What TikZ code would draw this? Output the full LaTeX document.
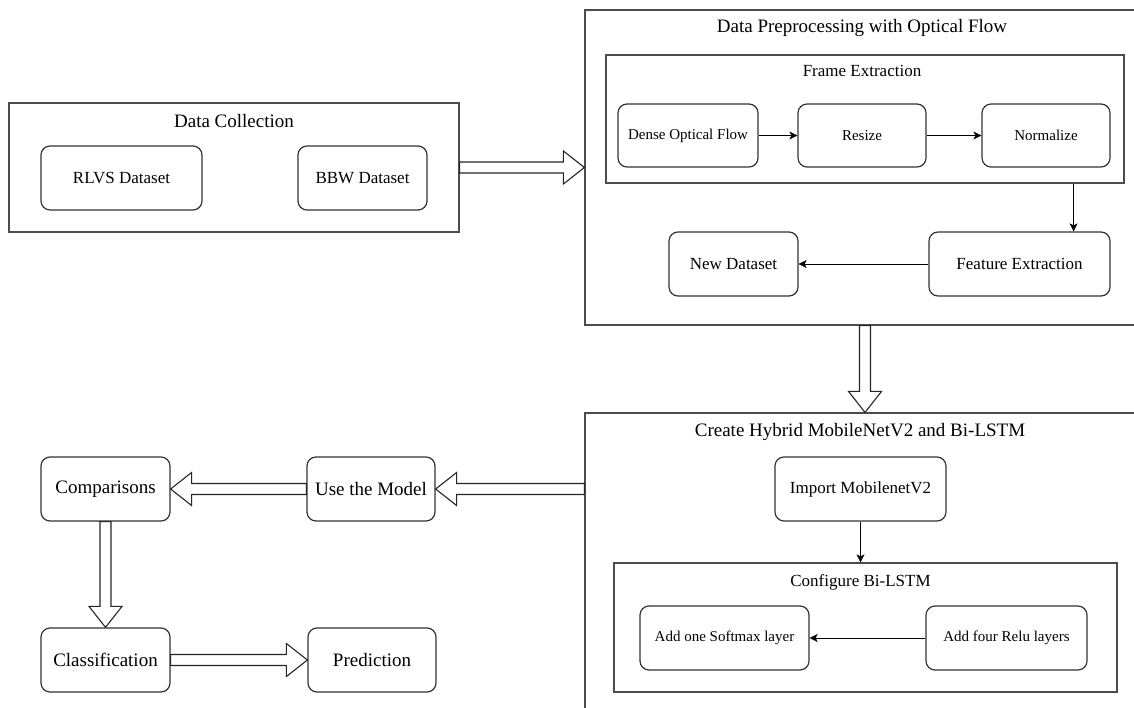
\documentclass[tikz,border=0pt]{standalone}
\usepackage{fontspec}
\setmainfont{Liberation Serif}
\usetikzlibrary{arrows.meta,calc}

\newcommand\hollowh[2]{\draw[fat] let \p1=(#1), \p2=(#2), \n1={sign(\x2-\x1)*21} in
  (\x1,\y1+5.5pt) -- ({\x2-\n1},\y1+5.5pt) -- ({\x2-\n1},\y1+16.5pt) -- (\x2,\y1)
  -- ({\x2-\n1},\y1-16.5pt) -- ({\x2-\n1},\y1-5.5pt) -- (\x1,\y1-5.5pt) -- cycle;}
\newcommand\hollowv[2]{\draw[fat] let \p1=(#1), \p2=(#2), \n1={sign(\y2-\y1)*21} in
  (\x1+5.5pt,\y1) -- (\x1+5.5pt,{\y2-\n1}) -- (\x1+16.5pt,{\y2-\n1}) -- (\x1,\y2)
  -- (\x1-16.5pt,{\y2-\n1}) -- (\x1-5.5pt,{\y2-\n1}) -- (\x1-5.5pt,\y1) -- cycle;}

\begin{document}
\begin{tikzpicture}[x=1pt,y=-1pt,font=\fontsize{17}{20}\selectfont,
    >={Stealth[length=8pt,width=8pt,inset=2pt]},
    group/.style={draw=black!70,line width=1.2pt},
    box/.style={draw=black!80,line width=1.2pt,rounded corners=9pt},
    fat/.style={draw=black!85,line width=1.1pt,fill=white},
    big/.style={font=\fontsize{19}{23}\selectfont},
    smalltext/.style={font=\fontsize{15}{18}\selectfont}]
\useasboundingbox (0,0) rectangle (1134,708);
\clip (0,0) rectangle (1134,708);

\node[group,minimum width=450pt,minimum height=129pt] (coll) at (234,167.5) {};
\node[big,anchor=base] (colltitle) at (234,128) {Data Collection};
\node[box,minimum width=161pt,minimum height=64pt] (rlvs) at (121.5,178) {RLVS Dataset};
\node[box,minimum width=129pt,minimum height=64pt] (bbw) at (362.5,178) {BBW Dataset};

\node[group,minimum width=560pt,minimum height=315pt] (prep) at (865,167.5) {};
\node[big,anchor=base] (preptitle) at (862,33) {Data Preprocessing with Optical Flow};
\node[group,minimum width=518pt,minimum height=128pt] (fe) at (865,119) {};
\node[anchor=base] (fetitle) at (862,77) {Frame Extraction};
\node[box,smalltext,minimum width=140pt,minimum height=63pt] (dof) at (688,135.5) {Dense Optical Flow};
\node[box,smalltext,minimum width=128pt,minimum height=63pt] (resize) at (862,135.5) {Resize};
\node[box,smalltext,minimum width=128pt,minimum height=63pt] (norm) at (1046,135.5) {Normalize};
\node[box,minimum width=181pt,minimum height=64pt] (feat) at (1019.5,264) {Feature Extraction};
\node[box,minimum width=129pt,minimum height=64pt] (newds) at (733.5,264) {New Dataset};

\node[group,minimum width=560pt,minimum height=310pt] (hyb) at (865,568) {};
\node[big,anchor=base] (hybtitle) at (860,436) {Create Hybrid MobileNetV2 and Bi-LSTM};
\node[box,minimum width=171pt,minimum height=64pt] (imp) at (860.5,489) {Import MobilenetV2};
\node[group,minimum width=503pt,minimum height=129pt] (cfg) at (865.5,627.5) {};
\node[anchor=base] (cfgtitle) at (860.5,586) {Configure Bi-LSTM};
\node[box,smalltext,minimum width=169pt,minimum height=64pt] (soft) at (724.5,638) {Add one Softmax layer};
\node[box,smalltext,minimum width=161pt,minimum height=64pt] (relu) at (1006.5,638) {Add four Relu layers};

\node[box,big,minimum width=128pt,minimum height=64pt] (use) at (371,489) {Use the Model};
\node[box,big,minimum width=129pt,minimum height=64pt] (comp) at (105.5,489) {Comparisons};
\node[box,big,minimum width=129pt,minimum height=64pt] (cls) at (105.5,660) {Classification};
\node[box,big,minimum width=128pt,minimum height=64pt] (pred) at (372,660) {Prediction};

\draw[->] (dof) -- (resize);
\draw[->] (resize) -- (norm);
\coordinate (fdrop) at ([xshift=-37pt]feat.north east);
\draw[->] (fe.south -| fdrop) -- (fdrop);
\draw[->] (feat) -- (newds);
\draw[->] (imp) -- (imp |- cfg.north);
\draw[->] (relu) -- (soft);

\hollowh{coll.east}{prep.west |- coll.east}
\hollowv{prep.south}{hyb.north}
\hollowh{hyb.west |- use.east}{use.east}
\hollowh{use.west}{comp.east}
\hollowv{comp.south}{cls.north}
\hollowh{cls.east}{pred.west}
\end{tikzpicture}
\end{document}
